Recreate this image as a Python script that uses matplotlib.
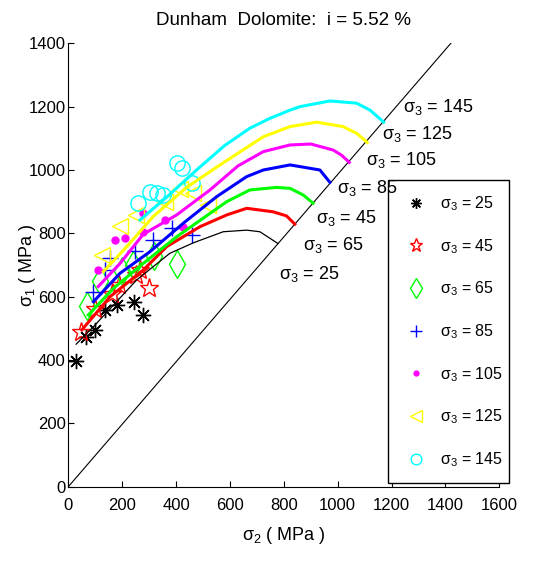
#!/usr/bin/env python3
"""
Dunham Dolomite: true-triaxial strength, sigma1 vs sigma2 for each sigma3
"""

import matplotlib
matplotlib.use("Agg")
import matplotlib.pyplot as plt

# confining stress levels (MPa)
s3_levels = [25, 45, 65, 85, 105, 125, 145]

# fitted strength curves, sigma2 / sigma1 (MPa)
curve_s2_25 = [29, 93, 254, 377, 464, 575, 662, 711, 778]
curve_s1_25 = [450, 505, 653, 737, 770, 805, 810, 805, 768]
curve_s2_45 = [50, 155, 278, 365, 489, 588, 662, 760, 810, 841]
curve_s1_45 = [495, 600, 684, 758, 821, 858, 879, 868, 855, 829]
curve_s2_65 = [74, 167, 278, 402, 526, 588, 674, 773, 823, 872, 909]
curve_s1_65 = [542, 626, 705, 789, 863, 900, 937, 945, 942, 921, 895]
curve_s2_85 = [93, 192, 303, 427, 551, 662, 724, 823, 934, 971]
curve_s1_85 = [584, 674, 742, 832, 916, 979, 1000, 1016, 1000, 961]
curve_s2_105 = [111, 192, 278, 402, 526, 630, 724, 823, 900, 983, 1014, 1043]
curve_s1_105 = [632, 705, 797, 858, 937, 1013, 1058, 1079, 1082, 1063, 1047, 1024]
curve_s2_125 = [130, 217, 315, 439, 563, 724, 823, 922, 1020, 1070, 1110]
curve_s1_125 = [679, 758, 853, 945, 1016, 1105, 1137, 1151, 1137, 1116, 1087]
curve_s2_145 = [266, 370, 476, 580, 674, 748, 823, 860, 971, 1070, 1120, 1171]
curve_s1_145 = [842, 918, 1000, 1077, 1132, 1163, 1189, 1200, 1218, 1211, 1189, 1151]

# test data, sigma2 / sigma1 (MPa)
test_s2_25 = [27, 64, 99, 136, 182, 244, 278]
test_s1_25 = [397, 472, 496, 558, 575, 583, 542]
test_s2_45 = [46, 100, 161, 189, 251, 266, 301]
test_s1_45 = [489, 560, 608, 637, 667, 683, 628]
test_s2_65 = [68, 118, 200, 240, 318, 402]
test_s1_65 = [570, 650, 680, 700, 728, 702]
test_s2_85 = [93, 136, 155, 247, 315, 384, 460]
test_s1_85 = [616, 684, 721, 745, 780, 818, 795]
test_s2_105 = [111, 173, 210, 276, 278, 360, 427]
test_s1_105 = [684, 779, 784, 803, 865, 842, 821]
test_s2_125 = [124, 192, 250, 360, 414, 464, 519]
test_s1_125 = [732, 823, 858, 900, 940, 926, 889]
test_s2_145 = [260, 303, 328, 353, 402, 421, 458]
test_s1_145 = [895, 931, 926, 921, 1021, 1005, 958]

# sigma1 = sigma2 limit line
diag_s2 = [0, 1420]
diag_s1 = [0, 1400]

curves = [(curve_s2_25, curve_s1_25), (curve_s2_45, curve_s1_45),
          (curve_s2_65, curve_s1_65), (curve_s2_85, curve_s1_85),
          (curve_s2_105, curve_s1_105), (curve_s2_125, curve_s1_125),
          (curve_s2_145, curve_s1_145)]
tests = [(test_s2_25, test_s1_25), (test_s2_45, test_s1_45),
         (test_s2_65, test_s1_65), (test_s2_85, test_s1_85),
         (test_s2_105, test_s1_105), (test_s2_125, test_s1_125),
         (test_s2_145, test_s1_145)]

# MATLAB-like colours and markers: (colour, marker, size, filled)
styles = [
    ("#000000", (8, 2, 0), 11, True),
    ("#FF0000", "*", 14, False),
    ("#00FF00", "d", 14, False),
    ("#0000FF", "+", 12, True),
    ("#FF00FF", "o", 5, True),
    ("#FFFF00", "<", 12, False),
    ("#00FFFF", "o", 11, False),
]

# where the curve labels sit, next to the limit line
label_pos = {145: (1242, 1184), 125: (1164, 1097), 105: (1105, 1016),
             85: (997, 926), 45: (919, 834), 65: (871, 747), 25: (782, 656)}

plt.rcParams["font.family"] = ["Liberation Sans", "DejaVu Sans"]
plt.rcParams["mathtext.fontset"] = "custom"
plt.rcParams["mathtext.rm"] = "Liberation Sans"
plt.rcParams["mathtext.it"] = "Liberation Sans:italic"


def s3_label(s3):
    return r"$\mathrm{\sigma_3}$ = %d" % s3


fig = plt.figure(figsize=(5.34, 5.61), dpi=100)
ax = fig.add_axes([0.128, 0.1325, 0.807, 0.7903])

ax.plot(diag_s2, diag_s1, color="k", lw=0.8, zorder=1)

# test points
for s3, (x, y), (c, m, ms, filled) in zip(s3_levels, tests, styles):
    ax.plot(x, y, ls="none", marker=m, ms=ms, mec=c,
            mfc=c if filled else "none", mew=1.0, label=s3_label(s3), zorder=2)

# fitted curves
for s3, (x, y), (c, m, ms, filled) in zip(s3_levels, curves, styles):
    lw = 0.9 if s3 == 25 else 2.2
    ax.plot(x, y, color=c, lw=lw, zorder=3)

# curve labels, kept above the legend box
for s3 in s3_levels:
    lx, ly = label_pos[s3]
    ax.text(lx, ly, s3_label(s3), fontsize=13, ha="left", va="baseline",
            zorder=6)

ax.set_xlim(0, 1600)
ax.set_ylim(0, 1400)
ax.set_xticks(range(0, 1601, 200))
ax.set_yticks(range(0, 1401, 200))
ax.tick_params(direction="in", length=4, width=0.8, labelsize=12)
ax.tick_params(axis="x", pad=8)
ax.tick_params(axis="y", pad=2)
for side in ["top", "right"]:
    ax.spines[side].set_visible(False)

ax.set_title("Dunham  Dolomite:  i = 5.52 %", fontsize=13.5, pad=13)
ax.set_xlabel(r"$\mathrm{\sigma_2}$ ( MPa )", fontsize=13, labelpad=9)
ax.set_ylabel(r"$\mathrm{\sigma_1}$ ( MPa )", fontsize=13, labelpad=-7)

leg = ax.legend(loc="lower left", bbox_to_anchor=(0.742, 0.0077, 0.2805, 0.682),
                mode="expand", fontsize=11.5, handlelength=1.7, handletextpad=0.65,
                borderpad=0.9, labelspacing=1.5, markerscale=0.7,
                fancybox=False, edgecolor="k", framealpha=1, borderaxespad=0)
leg.get_frame().set_linewidth(1.0)
leg.set_zorder(5)

fig.savefig("out.png", dpi=100)
